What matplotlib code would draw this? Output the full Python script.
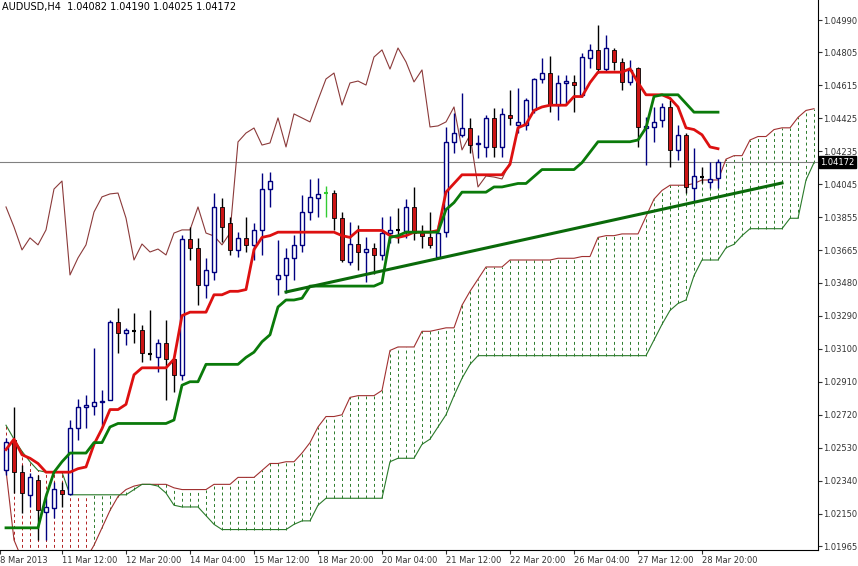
import matplotlib
matplotlib.use("Agg")
import matplotlib.pyplot as plt
import numpy as np

title = "AUDUSD,H4  1.04082 1.04190 1.04025 1.04172"
last_price = 1.04172

opens = [1.02403,1.02575,1.02391,1.02259,1.02345,1.02161,1.02185,1.02288,1.02265,1.02644,
         1.02765,1.02771,1.02794,1.02805,1.03254,1.03190,1.03202,1.03208,1.03070,1.03053,
         1.03133,1.03041,1.02949,1.03731,1.03679,1.03466,1.03541,1.03915,1.03823,1.03668,
         1.03737,1.03697,1.03783,1.04018,1.03501,1.03524,1.03622,1.03697,1.03886,1.03967,
         1.03995,1.03995,1.03851,1.03599,1.03702,1.03656,1.03679,1.03639,1.03765,1.03783,
         1.03777,1.03915,1.03765,1.03743,1.03627,1.03771,1.04289,1.04329,1.04369,1.04277,
         1.04260,1.04427,1.04260,1.04444,1.04386,1.04386,1.04473,1.04651,1.04685,1.04501,
         1.04628,1.04634,1.04559,1.04771,1.04818,1.04708,1.04818,1.04749,1.04634,1.04714,
         1.04369,1.04375,1.04415,1.04490,1.04243,1.04329,1.04024,1.04087,1.04059,1.04082]
highs = [1.02587,1.02765,1.02431,1.02385,1.02374,1.02271,1.02334,1.02334,1.02690,1.02811,
         1.02834,1.03104,1.02863,1.03265,1.03334,1.03219,1.03305,1.03236,1.03323,1.03156,
         1.03265,1.03047,1.03754,1.03800,1.03737,1.03622,1.03995,1.03967,1.03857,1.03771,
         1.03857,1.03823,1.04110,1.04116,1.03725,1.03679,1.03754,1.03984,1.04076,1.04082,
         1.04036,1.04013,1.03886,1.03829,1.03811,1.03743,1.03708,1.03857,1.03863,1.03909,
         1.03961,1.04030,1.03811,1.03886,1.03811,1.04375,1.04455,1.04570,1.04427,1.04329,
         1.04444,1.04484,1.04484,1.04588,1.04599,1.04542,1.04657,1.04771,1.04783,1.04674,
         1.04674,1.04674,1.04800,1.04852,1.04961,1.04904,1.04829,1.04771,1.04760,1.04720,
         1.04432,1.04490,1.04513,1.04530,1.04386,1.04340,1.04254,1.04145,1.04174,1.04190]
lows = [1.02374,1.02271,1.02156,1.02190,1.02000,1.02000,1.02127,1.02190,1.02259,1.02575,
        1.02644,1.02719,1.02661,1.02805,1.03075,1.03121,1.03133,1.03024,1.03035,1.02966,
        1.02805,1.02851,1.02920,1.03610,1.03352,1.03392,1.03495,1.03714,1.03639,1.03627,
        1.03656,1.03610,1.03639,1.03915,1.03409,1.03420,1.03495,1.03656,1.03840,1.03857,
        1.03857,1.03783,1.03599,1.03581,1.03553,1.03484,1.03530,1.03610,1.03708,1.03708,
        1.03737,1.03725,1.03679,1.03679,1.03622,1.03743,1.04225,1.04317,1.04225,1.04197,
        1.04202,1.04202,1.04202,1.04386,1.04340,1.04358,1.04455,1.04628,1.04461,1.04415,
        1.04501,1.04461,1.04547,1.04714,1.04685,1.04691,1.04703,1.04588,1.04616,1.04260,
        1.04157,1.04289,1.04375,1.04145,1.04185,1.03995,1.03944,1.04053,1.04024,1.04025]
closes = [1.02564,1.02391,1.02271,1.02362,1.02173,1.02190,1.02293,1.02265,1.02644,1.02765,
          1.02776,1.02794,1.02799,1.03254,1.03190,1.03208,1.03202,1.03075,1.03070,1.03133,
          1.03041,1.02949,1.03731,1.03679,1.03466,1.03553,1.03915,1.03800,1.03668,1.03737,
          1.03697,1.03783,1.04018,1.04064,1.03524,1.03622,1.03697,1.03886,1.03973,1.03990,
          1.03995,1.03851,1.03610,1.03702,1.03656,1.03673,1.03639,1.03765,1.03783,1.03783,
          1.03915,1.03765,1.03748,1.03697,1.03765,1.04289,1.04340,1.04369,1.04271,1.04283,
          1.04427,1.04260,1.04450,1.04427,1.04404,1.04530,1.04651,1.04685,1.04501,1.04628,
          1.04639,1.04616,1.04777,1.04818,1.04708,1.04829,1.04749,1.04634,1.04703,1.04375,
          1.04381,1.04404,1.04490,1.04243,1.04329,1.04030,1.04093,1.04087,1.04076,1.04172]

tenkan = [1.0252,1.0258,1.0249,1.0247,1.0244,1.0239,1.0239,1.0239,1.0239,1.0241,1.0242,
          1.0255,1.0264,1.0275,1.0275,1.0278,1.0295,1.0299,1.0299,1.0299,1.0299,1.0304,
          1.0329,1.0331,1.0331,1.0331,1.0341,1.0341,1.0343,1.0343,1.0344,1.0367,1.0374,
          1.0375] + [1.0377]*8 + [1.0375,1.0374] + [1.0378]*4 + [1.0375,1.0374,1.0375,
          1.0377,1.0377,1.0377,1.0378,1.0400,1.0405] + [1.0410]*6 + [1.0416,1.0437,1.0439,
          1.0447,1.0449,1.0450,1.0450,1.0450,1.0455,1.0455,1.0463] + [1.0469]*4 + [1.0471,
          1.0463,1.0456,1.0456,1.0456,1.0454,1.0449,1.0437,1.0436,1.0433,1.0426,1.0425]
kijun = [1.0207]*5 + [1.0225,1.0239,1.0245] + [1.0250]*3 + [1.0256]*2 + [1.0265] + \
        [1.0267]*7 + [1.0269,1.0289,1.0291,1.0291] + [1.0301]*5 + [1.0305,1.0308,1.0314,
        1.0318,1.0334,1.0338,1.0338,1.0339] + [1.0346]*9 + [1.0348,1.0374,1.0375] + \
        [1.0377]*5 + [1.0390,1.0394] + [1.0400]*4 + [1.0403,1.0403,1.0404,1.0405,1.0405,
        1.0409] + [1.0413]*5 + [1.0417,1.0423] + [1.0429]*5 + [1.0430,1.0437,1.0455,
        1.0456,1.0456,1.0456,1.0451,1.0446,1.0446,1.0446,1.0446]
span_a = [1.0240,1.0200] + [1.0189]*9 + [1.0197,1.0207,1.0217,1.0225,1.0229,1.0231] + \
         [1.0232]*4 + [1.0230] + [1.0229]*4 + [1.0232]*3 + [1.0236]*3 + [1.0240,1.0244,
         1.0244,1.0245,1.0245,1.0250,1.0256,1.0265,1.0271,1.0271,1.0272,1.0282,1.0283,
         1.0283,1.0283,1.0286,1.0309,1.0311,1.0311,1.0311,1.0320,1.0320,1.0321,1.0322,
         1.0322,1.0335,1.0343,1.0350,1.0357,1.0357,1.0357] + [1.0361]*6 + [1.0362]*3 + \
         [1.0363,1.0363,1.0374,1.0375,1.0375,1.0376,1.0376,1.0376,1.0386,1.0396,1.0401,
         1.0404,1.0404,1.0404,1.0405,1.0407,1.0407,1.0407,1.0419,1.0421,1.0421,1.0430,
         1.0432,1.0432,1.0436,1.0437,1.0437,1.0443,1.0447,1.0448]
span_b = [1.0266,1.0258,1.0251,1.0245,1.0240,1.0239,1.0239,1.0239] + [1.0226]*8 + \
         [1.0229,1.0232,1.0232,1.0231,1.0227,1.0220,1.0219,1.0219,1.0219,1.0214,1.0209] + \
         [1.0206]*9 + [1.0209,1.0211,1.0211,1.0220] + [1.0224]*8 + [1.0245,1.0247,1.0247,
         1.0247,1.0255,1.0258,1.0265,1.0272,1.0283,1.0293,1.0301] + [1.0306]*22 + \
         [1.0315,1.0324,1.0332,1.0336,1.0338,1.0352,1.0361,1.0361,1.0361,1.0368,1.0370,
         1.0375] + [1.0379]*5 + [1.0385,1.0385,1.0407,1.0417]
chikou_shift = 26
trend_bars = [35, 97]
trend_prices = [1.03426, 1.04053]

yticks = [1.04990,1.04805,1.04615,1.04425,1.04235,1.04045,1.03855,1.03665,1.03480,
          1.03290,1.03100,1.02910,1.02720,1.02530,1.02340,1.02150,1.01965]
xtick_bars = [-0.75,7,15,23,31,39,47,55,63,71,79,87]
xtick_labels = ["8 Mar 2013","11 Mar 12:00","12 Mar 20:00","14 Mar 04:00","15 Mar 12:00",
                "18 Mar 20:00","20 Mar 04:00","21 Mar 12:00","22 Mar 20:00","26 Mar 04:00",
                "27 Mar 12:00","28 Mar 20:00"]

fig = plt.figure(figsize=(8.58, 5.66), dpi=100)
ax = fig.add_axes([0, 16/566, 818/858, 550/566])
ax.set_xlim(-0.75, 101.5)
ax.set_ylim(1.019425, 1.05105)

n = len(closes)
idx = np.arange(n)
nc = len(span_a)
cidx = np.arange(nc)

for i in cidx:
    col = "#b02020" if i <= 10 else "#2a7a2a"
    ax.vlines(i, min(span_a[i], span_b[i]), max(span_a[i], span_b[i]), colors=col,
              linestyles=(0, (3, 3)), linewidth=0.7, zorder=1)
ax.plot(cidx, span_a, color="#a03030", lw=0.8, zorder=2)
ax.plot(cidx, span_b, color="#2a7a2a", lw=0.8, zorder=2)

ax.plot(idx[:n - chikou_shift], closes[chikou_shift:], color="#8b3a3a", lw=0.8, zorder=2)

ax.axhline(last_price, color="#808080", lw=0.8, zorder=1)

w = 0.6
for i in range(n):
    o, h, l, c = opens[i], highs[i], lows[i], closes[i]
    if c > o:
        ax.vlines(i, l, h, colors="#000080", lw=1, zorder=3)
        ax.bar(i, c - o, w, bottom=o, color="white", edgecolor="#000080", lw=1, zorder=4)
    elif c < o:
        ax.vlines(i, l, h, colors="black", lw=1, zorder=3)
        ax.bar(i, o - c, w, bottom=c, color="#cc1414", edgecolor="black", lw=0.6, zorder=4)
    else:
        col = "#33cc33" if i == 40 else "black"
        ax.vlines(i, l, h, colors=col, lw=1, zorder=3)
        ax.hlines(o, i - w / 2, i + w / 2, colors=col, lw=1.5, zorder=4)

ax.plot(idx, tenkan, color="#dd1010", lw=2, zorder=5)
ax.plot(idx, kijun, color="#0a7a0a", lw=2, zorder=5)
ax.plot(trend_bars, trend_prices, color="#0a6a0a", lw=2.2, zorder=6)

ax.text(0.003, 0.997, title, transform=ax.transAxes, ha="left", va="top", fontsize=7)

ax.yaxis.tick_right()
ax.set_yticks(yticks)
ax.set_yticklabels([f"{v:.5f}" for v in yticks], fontsize=6)
ax.set_xticks(xtick_bars)
ax.set_xticklabels(xtick_labels, fontsize=6, ha="left")
ax.tick_params(axis="both", length=3, pad=1, colors="#333333")
for s in ["top", "left"]:
    ax.spines[s].set_visible(False)
ax.text(1.003, last_price, "1.04172", transform=ax.get_yaxis_transform(), ha="left",
        va="center", fontsize=6, color="white",
        bbox=dict(boxstyle="square,pad=0.2", fc="black", ec="black"), zorder=10, clip_on=False)

fig.savefig("out.png", dpi=100)
